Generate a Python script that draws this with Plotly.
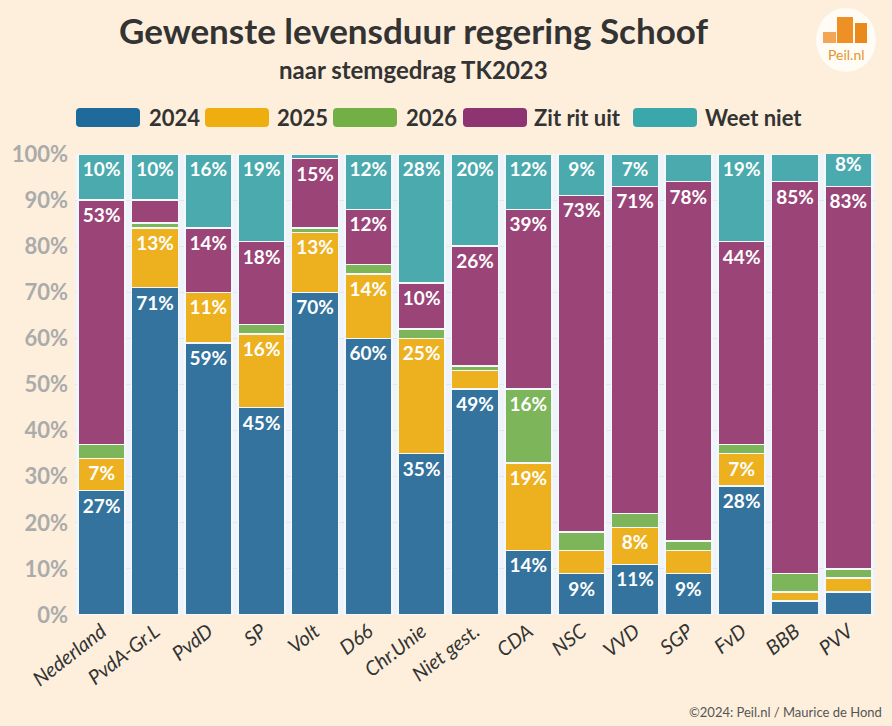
import plotly.graph_objects as go

categories = ["Nederland", "PvdA-Gr.L", "PvdD", "SP", "Volt", "D66", "Chr.Unie",
              "Niet gest.", "CDA", "NSC", "VVD", "SGP", "FvD", "BBB", "PVV"]
v2024 = [27, 71, 59, 45, 70, 60, 35, 49, 14, 9, 11, 9, 28, 3, 5]
v2025 = [7, 13, 11, 16, 13, 14, 25, 4, 19, 5, 8, 5, 7, 2, 3]
v2026 = [3, 1, 0, 2, 1, 2, 2, 1, 16, 4, 3, 2, 2, 4, 2]
zit = [53, 5, 14, 18, 15, 12, 10, 26, 39, 73, 71, 78, 44, 85, 83]
weet = [10, 10, 16, 19, 1, 12, 28, 20, 12, 9, 7, 6, 19, 6, 8]
series_names = ["2024", "2025", "2026", "Zit rit uit", "Weet niet"]
y_ticks = [0, 10, 20, 30, 40, 50, 60, 70, 80, 90, 100]
y_ticktext = ["0%", "10%", "20%", "30%", "40%", "50%", "60%", "70%", "80%", "90%", "100%"]

colors = ["#33739E", "#EDB120", "#7DB65A", "#9A4478", "#4BAAAE"]
legend_colors = ["#1E6A9A", "#EFAE10", "#72B046", "#8E3470", "#3AA8AA"]
FONT = "Lato"
BG = "#FDEFDC"

fig = go.Figure()
for name, vals, col in zip(series_names, [v2024, v2025, v2026, zit, weet], colors):
    fig.add_trace(go.Bar(
        x=categories, y=vals, name=name,
        marker=dict(color=col, line=dict(color="#F4F8FC", width=1.5)),
        text=[f"{v}%" if v >= 7 else "" for v in vals],
        textposition="inside", insidetextanchor="end", textangle=0,
        textfont=dict(color="white", size=19, family=FONT, weight="bold"),
        constraintext="none",
        hoverinfo="skip",
    ))

# plot area geometry (pixels)
W, H = 892, 726
L, R, T, B = 75, 17, 154, 111
pw, ph = W - L - R, H - T - B


def px2x(px):
    return (px - L) / pw


def py2y(py):
    return (H - B - py) / ph


def rounded_rect(x0, y0, x1, y1, r):
    rx, ry = r / pw, r / ph
    X0, X1 = px2x(x0), px2x(x1)
    Y0, Y1 = py2y(y1), py2y(y0)
    return (f"M{X0+rx},{Y0} L{X1-rx},{Y0} Q{X1},{Y0} {X1},{Y0+ry} "
            f"L{X1},{Y1-ry} Q{X1},{Y1} {X1-rx},{Y1} L{X0+rx},{Y1} "
            f"Q{X0},{Y1} {X0},{Y1-ry} L{X0},{Y0+ry} Q{X0},{Y0} {X0+rx},{Y0} Z")


shapes = []
annotations = []
# custom legend
legend_pos = [(76, 147), (205, 275), (333, 404), (463, 532), (633, 703)]
for (sx, tx), name, col in zip(legend_pos, series_names, legend_colors):
    shapes.append(dict(type="path", xref="paper", yref="paper",
                       path=rounded_rect(sx, 108, sx + 64, 127, 4),
                       fillcolor=col, line=dict(width=0)))
    annotations.append(dict(text=name, xref="paper", yref="paper",
                            x=px2x(tx), y=py2y(117.5), xanchor="left", yanchor="middle",
                            showarrow=False,
                            font=dict(family=FONT, size=22, color="#333333", weight="bold")))

# logo
shapes.append(dict(type="circle", xref="paper", yref="paper",
                   x0=px2x(816), x1=px2x(876), y0=py2y(72), y1=py2y(8),
                   fillcolor="#FFFBF5", line=dict(width=0)))
for (x0, x1, y0, col) in [(823, 836, 32, "#F2A655"), (837, 853, 17, "#EE9024"), (855, 867, 23, "#EA8A1C")]:
    shapes.append(dict(type="rect", xref="paper", yref="paper",
                       x0=px2x(x0), x1=px2x(x1), y0=py2y(43), y1=py2y(y0),
                       fillcolor=col, line=dict(width=0)))
annotations.append(dict(text="Peil.nl", xref="paper", yref="paper",
                        x=px2x(846), y=py2y(54), xanchor="center", yanchor="middle",
                        showarrow=False, font=dict(family=FONT, size=14, color="#E8952E")))

# titles
annotations.append(dict(text="<b>Gewenste levensduur regering Schoof</b>", xref="paper", yref="paper",
                        x=px2x(413), y=py2y(30), xanchor="center", yanchor="middle",
                        showarrow=False, font=dict(family=FONT, size=35, color="#333333")))
annotations.append(dict(text="<b>naar stemgedrag TK2023</b>", xref="paper", yref="paper",
                        x=px2x(413), y=py2y(70), xanchor="center", yanchor="middle",
                        showarrow=False, font=dict(family=FONT, size=24, color="#333333")))
# footer
annotations.append(dict(text="©2024: Peil.nl / Maurice de Hond", xref="paper", yref="paper",
                        x=px2x(884), y=py2y(712), xanchor="right", yanchor="middle",
                        showarrow=False, font=dict(family=FONT, size=13, color="#555555")))

fig.update_layout(
    width=W, height=H,
    margin=dict(l=L, r=R, t=T, b=B, autoexpand=False),
    barmode="stack", bargap=0.12,
    paper_bgcolor=BG, plot_bgcolor="#EFF4FA",
    showlegend=False,
    shapes=shapes, annotations=annotations,
    font=dict(family=FONT),
    xaxis=dict(tickangle=-38, tickfont=dict(family=FONT, size=20, color="#333333", style="italic"),
               showgrid=False, ticks="", fixedrange=True),
    yaxis=dict(range=[0, 100], tickvals=y_ticks, ticktext=y_ticktext,
               tickfont=dict(family=FONT, size=22, color="#ABABAB", weight="bold"),
               ticklabelstandoff=6,
               gridcolor="#E2E7EE", gridwidth=1, zeroline=False, ticks="", fixedrange=True),
)

fig.write_html("out.html", config={"displayModeBar": False},
               post_script="document.body.style.margin='0';document.body.style.overflow='hidden';")
